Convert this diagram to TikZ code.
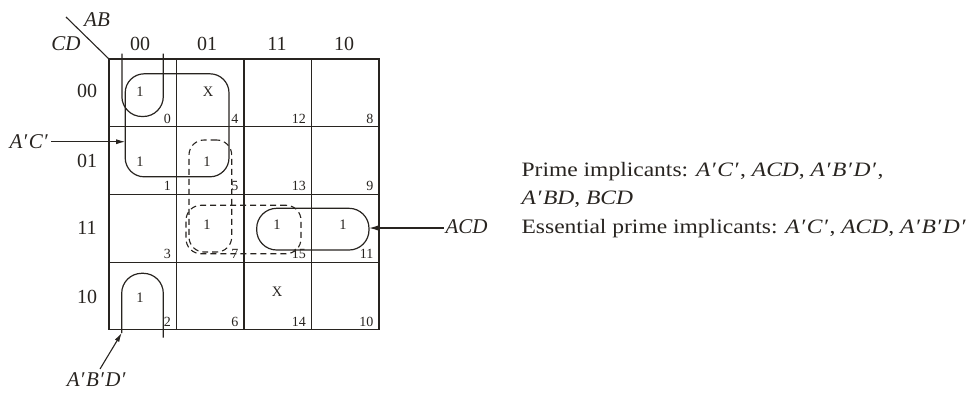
\documentclass[tikz,border=0pt]{standalone}
\usepackage{fontspec}
\setmainfont{Liberation Serif}
\newfontfamily\bodyfont[FakeStretch=1.15]{Liberation Serif}
\usetikzlibrary{arrows.meta}
\definecolor{ink}{RGB}{40,36,32}
\newcommand{\pr}{{\kern0.3pt\char"2032\relax\kern1.6pt}}
\begin{document}
\begin{tikzpicture}[x=1pt,y=-1pt,
  line width=1.2pt, draw=ink, text=ink,
  cell/.style={draw, minimum width=67.5pt, minimum height=67.7pt, inner sep=0pt, outer sep=0pt},
  cornernum/.style={font=\fontsize{14}{16}\selectfont, inner sep=0pt, anchor=base east},
  entry/.style={font=\fontsize{14.5}{16}\selectfont, inner sep=0pt},
  head/.style={font=\fontsize{20}{22}\selectfont, inner sep=0pt, anchor=base},
  var/.style={font=\fontsize{21}{23}\selectfont\itshape, inner sep=0pt},
  body/.style={font=\bodyfont\fontsize{20.45}{22}\selectfont, inner sep=0pt, anchor=base west},
  solidloop/.style={draw, line width=1.2pt, inner sep=0pt, outer sep=0pt},
  dashloop/.style={draw, line width=1.1pt, dash pattern=on 6pt off 4pt, inner sep=0pt, outer sep=0pt},
  arr/.style={-{Latex[length=9pt,width=5pt]}, line width=1.1pt}
]
\useasboundingbox (0,0) rectangle (970,392);
% cells
\foreach \i/\j/\m in {0/0/0,0/1/1,0/2/3,0/3/2,
                      1/0/4,1/1/5,1/2/7,1/3/6,
                      2/0/12,2/1/13,2/2/15,2/3/14,
                      3/0/8,3/1/9,3/2/11,3/3/10}{
  \node[cell] (c\m) at ({109+67.5*\i+33.75},{59+67.7*\j+33.85}) {};
  \node[cornernum] (n\m) at ([xshift=-5pt,yshift=3.5pt]c\m.south east) {\m};
}
% headers
\coordinate (dg) at (66,17);
\draw[line width=1.1pt] (dg) -- (c0.north west);
\node[var, anchor=base] (ab) at (97,26) {AB};
\node[var, anchor=base] (cd) at (66,50.5) {CD};
\node[head] (h0) at (140,50) {00};
\node[head] (h1) at (207,50) {01};
\node[head] (h2) at (277,50) {11};
\node[head] (h3) at (344,50) {10};
\node[head] (r0) at (87,97.5) {00};
\node[head] (r1) at (87,167) {01};
\node[head] (r2) at (87,234) {11};
\node[head] (r3) at (87,303) {10};
% entries
\node[entry] (e0) at (140,92) {1};
\node[entry] (e4) at (208,92) {X};
\node[entry] (e1) at (140,162) {1};
\node[entry] (e5) at (207,162) {1};
\node[entry] (e7) at (207,225) {1};
\node[entry] (e15) at (277,225) {1};
\node[entry] (e11) at (343,225) {1};
\node[entry] (e2) at (140,298) {1};
\node[entry] (e14) at (277,292) {X};
% solid loops
\node[solidloop, rounded corners=19pt, minimum width=103.8pt, minimum height=103pt] (acp) at (177.1,125.3) {};
\node[solidloop, rounded corners=20pt, minimum width=112.3pt, minimum height=41.7pt] (acd) at (312.85,229.15) {};
\draw[rounded corners=20pt] (121.9,53.5) -- (121.9,116.5) -- (163.3,116.5) -- (163.3,53.5);
\draw[rounded corners=20pt] (121.7,333) coordinate (abdtip) -- (121.7,273.3) -- (163.3,273.3) -- (163.3,337.5);
% dashed loops
\node[dashloop, rounded corners=15pt, minimum width=42.7pt, minimum height=112pt] (abd) at (210.35,196) {};
\node[dashloop, rounded corners=15pt, minimum width=115pt, minimum height=48.5pt] (bcd) at (243.5,229.5) {};
% labels and arrows
\node[var, anchor=base east] (lac) at (50,148) {A\pr C\pr};
\coordinate (lacarr) at (51,141.7);
\draw[arr] (lacarr) -- (lacarr -| acp.west);
\node[var, anchor=base west] (lacd) at (445,233.5) {ACD};
\coordinate (lacdarr) at (443.5,228);
\draw[arr] (lacdarr) -- (lacdarr -| acd.east);
\node[var, anchor=base] (labd) at (97,386.5) {A\pr B\pr D\pr};
\coordinate (labdarr) at (100,369);
\draw[arr] (labdarr) -- (abdtip);
% text
\node[body] (t1) at (521,176) {Prime implicants: \textit{A\pr C\pr}, \textit{ACD}, \textit{A\pr B\pr D\pr},};
\node[body] (t2) at (521,204.5) {\textit{A\pr BD}, \textit{BCD}};
\node[body] (t3) at (521,233.5) {Essential prime implicants: \textit{A\pr C\pr}, \textit{ACD}, \textit{A\pr B\pr D\pr}};
\end{tikzpicture}
\end{document}
